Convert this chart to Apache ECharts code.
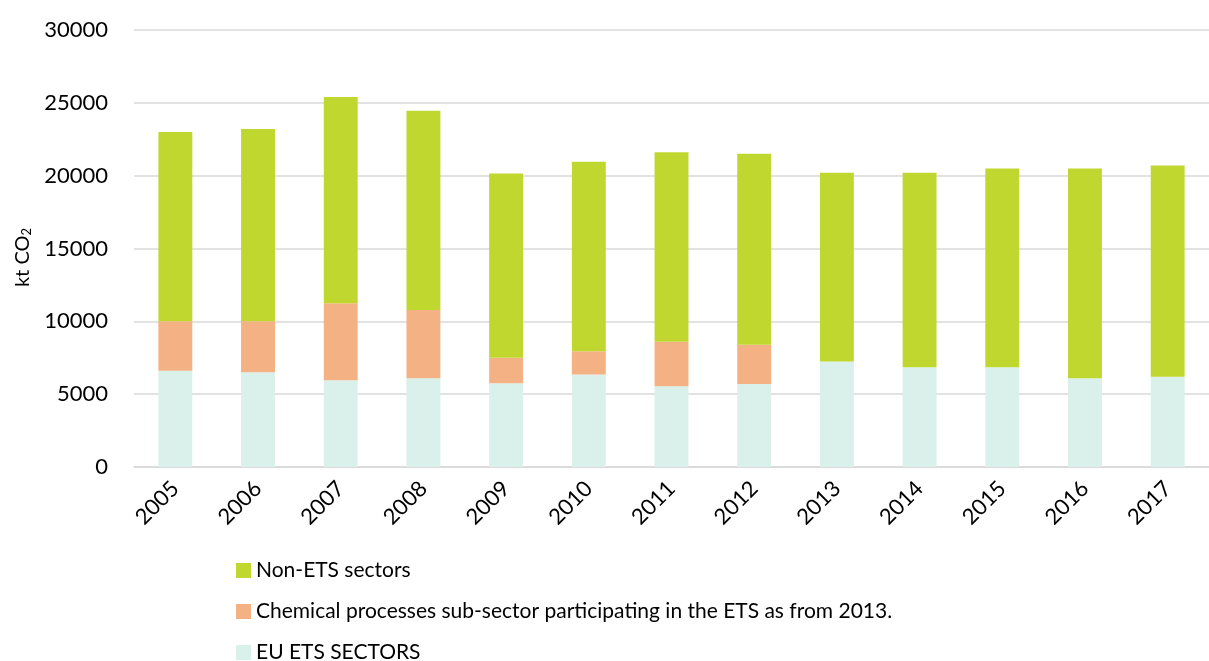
<!DOCTYPE html>
<html>
<head>
<meta charset="utf-8">
<script src="https://cdn.jsdelivr.net/npm/echarts@6/dist/echarts.min.js"></script>
<style>
    html, body {
        margin: 0;
        padding: 0;
        background: #fff;
    }
    #chart {
        width: 1209px;
        height: 661px;
    }
</style>
</head>
<body>
<div id="chart"></div>
<script>
    // years on the x axis
    var years = ['2005', '2006', '2007', '2008', '2009', '2010', '2011', '2012', '2013', '2014', '2015', '2016', '2017'];

    // kt CO2 (stacked: EU ETS at the bottom)
    var euEts = [6600, 6500, 5950, 6100, 5750, 6350, 5550, 5700, 7250, 6850, 6850, 6100, 6200];
    var chemical = [3400, 3500, 5300, 4670, 1750, 1600, 3050, 2700, 0, 0, 0, 0, 0];
    var nonEts = [13000, 13200, 14150, 13680, 12650, 13000, 13000, 13100, 12950, 13350, 13650, 14400, 14500];

    var yTicks = [0, 5000, 10000, 15000, 20000, 25000, 30000];

    var fontName = 'Lato';

    var myChart = echarts.init(document.getElementById('chart'));

    var option = {
        animation: false,
        textStyle: {
            fontFamily: fontName
        },
        grid: {
            left: 134,
            right: -10,
            top: 30,
            bottom: 194
        },
        legend: {
            orient: 'vertical',
            left: 231,
            top: 555,
            height: 140,
            itemWidth: 15,
            itemHeight: 15,
            itemGap: 20,
            icon: 'rect',
            textStyle: {
                fontFamily: fontName,
                fontSize: 21,
                color: '#000'
            },
            data: ['Non-ETS sectors', 'Chemical processes sub-sector participating in the ETS as from 2013.', 'EU ETS SECTORS']
        },
        xAxis: {
            type: 'category',
            data: years,
            axisLine: {
                show: true,
                lineStyle: {
                    color: '#d9d9d9',
                    width: 1.5
                }
            },
            axisTick: {
                show: false
            },
            axisLabel: {
                rotate: 45,
                margin: 18,
                color: '#000',
                fontSize: 22,
                fontFamily: fontName
            }
        },
        yAxis: {
            type: 'value',
            min: yTicks[0],
            max: yTicks[yTicks.length - 1],
            interval: 5000,
            name: 'kt CO{sub|2}',
            nameLocation: 'middle',
            nameGap: 98,
            nameTextStyle: {
                color: '#000',
                fontSize: 20,
                fontFamily: fontName,
                padding: [0, 18, 0, 0],
                rich: {
                    sub: {
                        fontSize: 13,
                        fontFamily: fontName,
                        color: '#000',
                        padding: [8, 0, 0, 0]
                    }
                }
            },
            axisLine: {
                show: false
            },
            axisTick: {
                show: false
            },
            splitLine: {
                lineStyle: {
                    color: '#d9d9d9',
                    width: 1.5
                }
            },
            axisLabel: {
                margin: 26,
                color: '#000',
                fontSize: 22,
                fontFamily: fontName,
                formatter: function (v) {
                    return String(v);
                }
            }
        },
        series: [
            {
                name: 'EU ETS SECTORS',
                type: 'bar',
                stack: 'total',
                barWidth: '41%',
                itemStyle: {
                    color: '#daf0eb'
                },
                data: euEts
            },
            {
                name: 'Chemical processes sub-sector participating in the ETS as from 2013.',
                type: 'bar',
                stack: 'total',
                itemStyle: {
                    color: '#f4b183'
                },
                data: chemical
            },
            {
                name: 'Non-ETS sectors',
                type: 'bar',
                stack: 'total',
                itemStyle: {
                    color: '#c0d730'
                },
                data: nonEts
            }
        ]
    };

    myChart.setOption(option);
    window.addEventListener('resize', myChart.resize);
</script>
</body>
</html>
